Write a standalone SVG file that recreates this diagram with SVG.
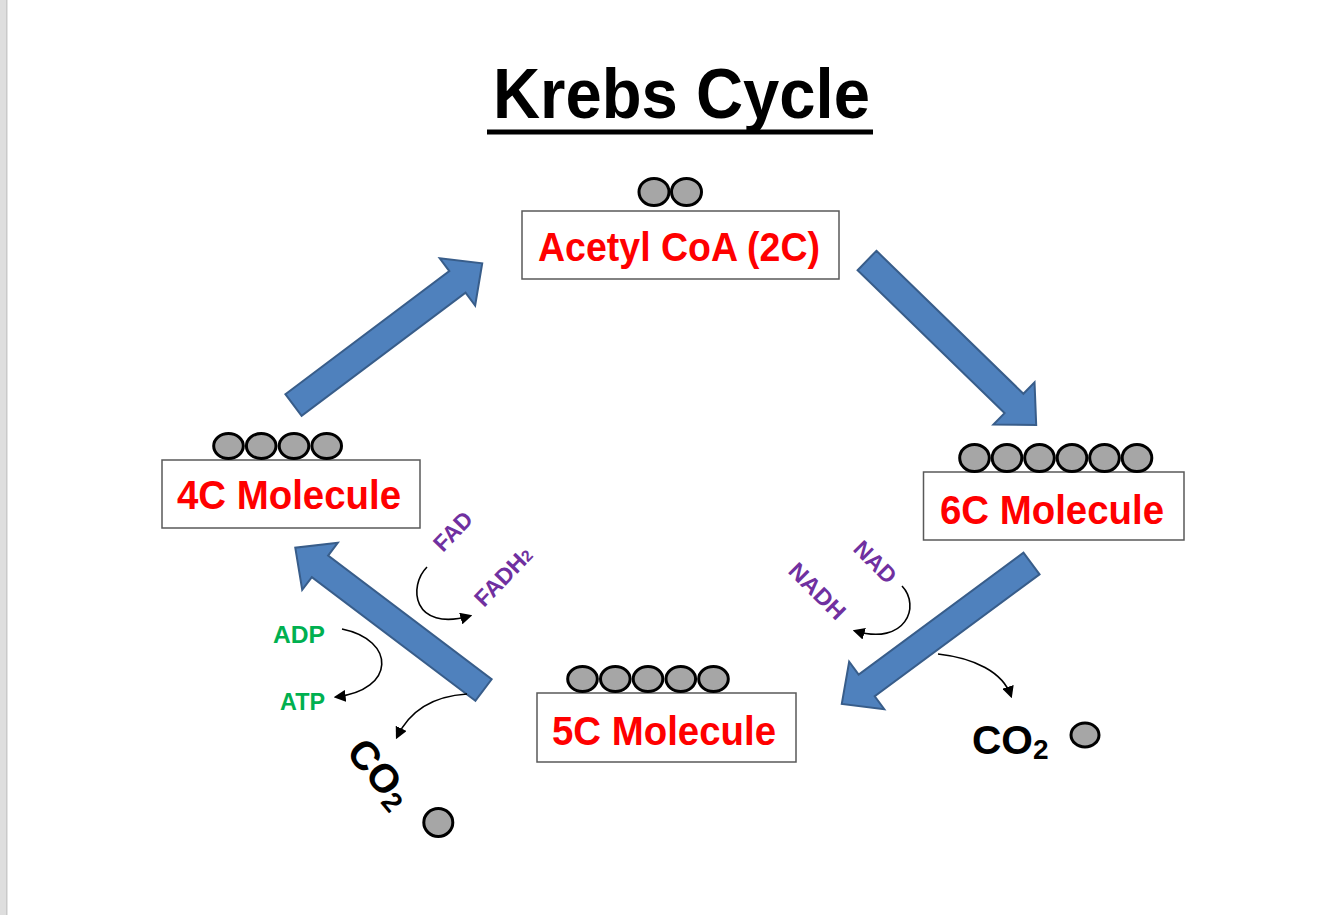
<svg xmlns="http://www.w3.org/2000/svg" width="1334" height="915" viewBox="0 0 1334 915">
<style>
.box{fill:#fff;stroke:#595959;stroke-width:1.5}
.lbl{font-family:"Liberation Sans",Arial,sans-serif;font-weight:bold;fill:#ff0000;font-size:40px}
.atom{fill:#a6a6a6;stroke:#000;stroke-width:3}
.big{fill:#4f81bd;stroke:#385d8a;stroke-width:2;stroke-linejoin:miter}
.curve{fill:none;stroke:#000;stroke-width:1.6}
.pur{font-family:"Liberation Sans",Arial,sans-serif;font-weight:bold;fill:#7030a0;font-size:23px}
.grn{font-family:"Liberation Sans",Arial,sans-serif;font-weight:bold;fill:#00b050;font-size:24px}
.co2{font-family:"Liberation Sans",Arial,sans-serif;font-weight:bold;fill:#000;font-size:40px}
</style>
<defs>
<polygon id="bigArrow" class="big" points="0,-13.5 205,-13.5 205,-29.5 236,0 205,29.5 205,13.5 0,13.5"/>
<marker id="ah" viewBox="0 0 10 10" refX="8" refY="5" markerWidth="12" markerHeight="12" markerUnits="userSpaceOnUse" orient="auto">
<path d="M0,0 L10,5 L0,10 z" fill="#000"/>
</marker>
</defs>
<rect x="0" y="0" width="1334" height="915" fill="#fff"/>
<rect x="0" y="0" width="7" height="915" fill="#dedede"/>
<rect x="6" y="0" width="1.5" height="915" fill="#c9c9c9"/>

<g id="title">
<text x="493" y="118" font-family="'Liberation Sans',Arial,sans-serif" font-weight="bold" font-size="70" fill="#000" textLength="377" lengthAdjust="spacingAndGlyphs">Krebs Cycle</text>
<rect x="487" y="129.5" width="386" height="5" fill="#000"/>
</g>

<g id="connectors">
<use href="#bigArrow" transform="translate(293.5,405) rotate(-36.9)"/>
<use href="#bigArrow" transform="translate(867,260.5) rotate(44.2)"/>
<use href="#bigArrow" transform="translate(1031.5,563.5) rotate(143.5)"/>
<use href="#bigArrow" transform="translate(483.5,690) rotate(-142.9)"/>
<path class="curve" d="M427,567 C408,586 412,632 470,616" marker-end="url(#ah)"/>
<path class="curve" d="M902,586 C921,606 906,646 855,631" marker-end="url(#ah)"/>
<path class="curve" d="M938,654 C974,658 1003,672 1011,696" marker-end="url(#ah)"/>
<path class="curve" d="M342,629 C396,640 396,690 336,697" marker-end="url(#ah)"/>
<path class="curve" d="M467,694 C435,696 410,710 397,737" marker-end="url(#ah)"/>
</g>

<g id="acetylcoa">
<rect class="box" x="522" y="211" width="317" height="68"/>
<ellipse class="atom" cx="654" cy="192" rx="15" ry="13.5"/>
<ellipse class="atom" cx="686.5" cy="192" rx="15" ry="13.5"/>
<text class="lbl" x="538" y="261" font-size="39" textLength="282" lengthAdjust="spacingAndGlyphs">Acetyl CoA (2C)</text>
</g>

<g id="c6">
<rect class="box" x="923.5" y="472" width="260.5" height="68"/>
<ellipse class="atom" cx="974.5" cy="458" rx="14.8" ry="13.5"/>
<ellipse class="atom" cx="1007" cy="458" rx="14.8" ry="13.5"/>
<ellipse class="atom" cx="1039.5" cy="458" rx="14.8" ry="13.5"/>
<ellipse class="atom" cx="1072" cy="458" rx="14.8" ry="13.5"/>
<ellipse class="atom" cx="1104.5" cy="458" rx="14.8" ry="13.5"/>
<ellipse class="atom" cx="1137" cy="458" rx="14.8" ry="13.5"/>
<text class="lbl" x="940" y="524" textLength="224" lengthAdjust="spacingAndGlyphs">6C Molecule</text>
</g>

<g id="c5">
<rect class="box" x="537" y="693" width="259" height="69"/>
<ellipse class="atom" cx="582.5" cy="679" rx="14.8" ry="12.5"/>
<ellipse class="atom" cx="615.3" cy="679" rx="14.8" ry="12.5"/>
<ellipse class="atom" cx="648" cy="679" rx="14.8" ry="12.5"/>
<ellipse class="atom" cx="680.8" cy="679" rx="14.8" ry="12.5"/>
<ellipse class="atom" cx="713.5" cy="679" rx="14.8" ry="12.5"/>
<text class="lbl" x="552" y="745" textLength="224" lengthAdjust="spacingAndGlyphs">5C Molecule</text>
</g>

<g id="c4">
<rect class="box" x="162" y="460" width="258" height="68"/>
<ellipse class="atom" cx="228.5" cy="446" rx="14.8" ry="12.5"/>
<ellipse class="atom" cx="261.2" cy="446" rx="14.8" ry="12.5"/>
<ellipse class="atom" cx="294" cy="446" rx="14.8" ry="12.5"/>
<ellipse class="atom" cx="326.7" cy="446" rx="14.8" ry="12.5"/>
<text class="lbl" x="177" y="509" textLength="224" lengthAdjust="spacingAndGlyphs">4C Molecule</text>
</g>

<g id="fad">
<text class="pur" transform="translate(443,553) rotate(-46)" textLength="45" lengthAdjust="spacingAndGlyphs">FAD</text>
</g>
<g id="fadh2">
<text class="pur" transform="translate(484,608) rotate(-46)"><tspan textLength="63" lengthAdjust="spacingAndGlyphs">FADH</tspan><tspan font-size="16">2</tspan></text>
</g>
<g id="nad">
<text class="pur" transform="translate(852,550) rotate(45)" textLength="50" lengthAdjust="spacingAndGlyphs">NAD</text>
</g>
<g id="nadh">
<text class="pur" transform="translate(787,572) rotate(45)" textLength="70" lengthAdjust="spacingAndGlyphs">NADH</text>
</g>
<g id="adp">
<text class="grn" x="273" y="643" textLength="52" lengthAdjust="spacingAndGlyphs">ADP</text>
</g>
<g id="atp">
<text class="grn" x="280" y="710" textLength="45" lengthAdjust="spacingAndGlyphs">ATP</text>
</g>

<g id="co2right">
<text class="co2" x="972" y="754"><tspan textLength="61" lengthAdjust="spacingAndGlyphs">CO</tspan><tspan font-size="28" dy="5">2</tspan></text>
<ellipse class="atom" cx="1085" cy="735" rx="14" ry="12"/>
</g>

<g id="co2left">
<text class="co2" transform="translate(345,753) rotate(50)"><tspan>CO</tspan><tspan font-size="28" dy="5">2</tspan></text>
<ellipse class="atom" cx="438.3" cy="822.5" rx="14.5" ry="14"/>
</g>
</svg>
